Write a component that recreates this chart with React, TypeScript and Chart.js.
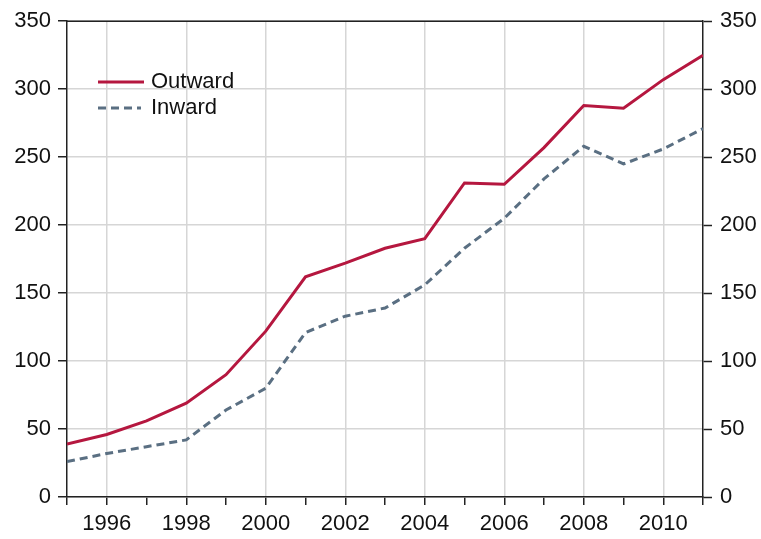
import React, { useEffect, useRef } from "react";
import { Chart, registerables } from "chart.js";

Chart.register(...registerables);

const years = [1995, 1996, 1997, 1998, 1999, 2000, 2001, 2002, 2003, 2004, 2005, 2006, 2007, 2008, 2009, 2010, 2011];
const outward = [39, 46, 56, 69, 90, 122, 162, 172, 183, 190, 231, 230, 257, 288, 286, 307, 325];
const inward = [26, 32, 37, 42, 64, 80, 121, 133, 139, 156, 183, 205, 234, 258, 245, 256, 271];
const yTicks = [0, 50, 100, 150, 200, 250, 300, 350];
const seriesNames = ["Outward", "Inward"];

const RED = "#b5173f";
const BLUE = "#5a6f82";
const FONT = "'Liberation Sans', Arial, sans-serif";
const FS = 22;

export default function App() {
  const ref = useRef<HTMLCanvasElement | null>(null);
  useEffect(() => {
    document.body.style.margin = "0";
    const canvas = ref.current!;
    const legendPlugin = {
      id: "customLegend",
      afterDraw(chart: any) {
        const ctx = chart.ctx;
        const a = chart.chartArea;
        ctx.save();
        ctx.strokeStyle = "#222";
        ctx.lineWidth = 1.5;
        ctx.beginPath();
        ctx.moveTo(a.left, a.top);
        ctx.lineTo(a.right, a.top);
        ctx.stroke();
        const items = chart.data.datasets;
        items.forEach((ds: any, i: number) => {
          const y = 82 + i * 26;
          ctx.strokeStyle = ds.borderColor;
          ctx.lineWidth = 3;
          ctx.setLineDash(ds.borderDash || []);
          ctx.beginPath();
          ctx.moveTo(98, y);
          ctx.lineTo(i === 0 ? 144 : 141, y);
          ctx.stroke();
          ctx.setLineDash([]);
          ctx.fillStyle = "#111";
          ctx.font = `${FS}px ${FONT}`;
          ctx.textBaseline = "middle";
          ctx.textAlign = "left";
          ctx.fillText(ds.label, 151, y);
        });
        ctx.restore();
      },
    };
    const chart = new Chart(canvas, {
      type: "line",
      data: {
        datasets: [
          {
            label: seriesNames[0],
            data: years.map((x, i) => ({ x, y: outward[i] })),
            borderColor: RED,
            borderWidth: 3,
            pointRadius: 0,
            tension: 0,
            yAxisID: "y",
          },
          {
            label: seriesNames[1],
            data: years.map((x, i) => ({ x, y: inward[i] })),
            borderColor: BLUE,
            borderWidth: 3,
            borderDash: [8, 5],
            pointRadius: 0,
            tension: 0,
            yAxisID: "y",
          },
        ],
      },
      options: {
        animation: false,
        responsive: false,
        maintainAspectRatio: false,
        layout: { padding: { top: 20, left: 0, right: 0, bottom: 0 } },
        plugins: { legend: { display: false }, tooltip: { enabled: false } },
        scales: {
          x: {
            type: "linear",
            min: years[0],
            max: years[years.length - 1],
            afterBuildTicks: (s: any) => {
              s.ticks = years.map((v) => ({ value: v }));
            },
            afterFit: (s: any) => {
              s.height = 42;
            },
            ticks: {
              autoSkip: false,
              maxRotation: 0,
              padding: 6,
              color: "#111",
              font: { family: FONT, size: FS },
              callback: (v: any) => (Number(v) % 2 === 0 ? String(v) : ""),
            },
            grid: {
              color: (c: any) => (c.tick && c.tick.value % 2 === 0 ? "#d6d6d6" : "rgba(0,0,0,0)"),
              lineWidth: 1.5,
              tickColor: "#222",
              tickLength: 8,
              tickWidth: 1.5,
            },
            border: { color: "#222", width: 1.5 },
          },
          y: {
            position: "left",
            min: 0,
            max: 350,
            afterBuildTicks: (s: any) => {
              s.ticks = yTicks.map((v) => ({ value: v }));
            },
            afterFit: (s: any) => {
              s.width = 67;
            },
            ticks: {
              padding: 7,
              color: "#111",
              font: { family: FONT, size: FS },
            },
            grid: {
              color: "#d6d6d6",
              lineWidth: 1.5,
              tickColor: "#222",
              tickLength: 9,
              tickWidth: 1.5,
            },
            border: { color: "#222", width: 1.5 },
          },
          y2: {
            position: "right",
            min: 0,
            max: 350,
            afterBuildTicks: (s: any) => {
              s.ticks = yTicks.map((v) => ({ value: v }));
            },
            afterFit: (s: any) => {
              s.width = 58;
            },
            ticks: {
              padding: 8,
              color: "#111",
              font: { family: FONT, size: FS },
            },
            grid: {
              drawOnChartArea: false,
              tickColor: "#222",
              tickLength: 9,
              tickWidth: 1.5,
            },
            border: { color: "#222", width: 1.5 },
          },
        },
      },
      plugins: [legendPlugin],
    } as any);
    return () => chart.destroy();
  }, []);
  return (
    <div style={{ width: 761, height: 539 }}>
      <canvas ref={ref} width={761} height={539} style={{ display: "block" }} />
    </div>
  );
}
